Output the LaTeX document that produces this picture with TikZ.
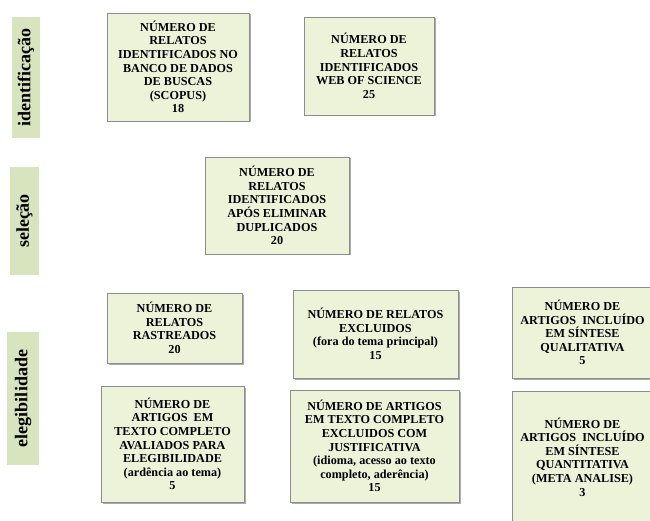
\documentclass[tikz,border=0pt]{standalone}
\usepackage{fontspec}
\setmainfont{Liberation Serif}
\usetikzlibrary{shadows}
\definecolor{barfill}{HTML}{D7E4BD}
\definecolor{boxfill}{HTML}{EDF3D9}
\definecolor{boxline}{HTML}{8C8C8C}
\begin{document}
\begin{tikzpicture}[x=1pt,y=-1pt,
  box/.style={draw=boxline, line width=0.7pt, fill=boxfill, align=center, inner sep=0pt,
    font=\fontsize{12.2}{13.6}\selectfont\bfseries,
    drop shadow={shadow xshift=1.5pt, shadow yshift=-1.5pt, fill=black!55, opacity=0.6}},
  stage/.style={fill=barfill, inner sep=0pt, rotate=90,
    font=\fontsize{18}{20}\selectfont\bfseries}]
\useasboundingbox (0,0) rectangle (650,521);

% stage bars
\node[stage, minimum width=121pt, minimum height=28pt] (sid) at (26,77.5) {identificação};
\node[stage, minimum width=108pt, minimum height=29pt] (ssel) at (24.5,221) {seleção};
\node[stage, minimum width=133pt, minimum height=32pt] (sele) at (23,398.5) {elegibilidade};

% boxes
\node[box, minimum width=142pt, minimum height=108pt] (b1) at (178,67)
  {NÚMERO DE\\RELATOS\\IDENTIFICADOS NO\\BANCO DE DADOS\\DE BUSCAS\\(SCOPUS)\\18};
\node[box, minimum width=130pt, minimum height=98pt] (b2) at (369,66)
  {NÚMERO DE\\RELATOS\\IDENTIFICADOS\\WEB OF SCIENCE\\25};
\node[box, minimum width=144pt, minimum height=97pt] (b3) at (277,205.5)
  {NÚMERO DE\\RELATOS\\IDENTIFICADOS\\APÓS ELIMINAR\\DUPLICADOS\\20};
\node[box, minimum width=135pt, minimum height=70pt] (b4) at (174.5,328)
  {NÚMERO DE\\RELATOS\\RASTREADOS\\20};
\node[box, minimum width=165pt, minimum height=88pt] (b5) at (375.5,334)
  {NÚMERO DE RELATOS\\EXCLUIDOS\\(fora do tema principal)\\15};
\node[box, minimum width=141pt, minimum height=91pt] (b6) at (582.5,332.5)
  {NÚMERO DE\\ARTIGOS\ \ INCLUÍDO\\EM SÍNTESE\\QUALITATIVA\\5};
\node[box, minimum width=143pt, minimum height=116pt] (b7) at (172.5,444)
  {NÚMERO DE\\ARTIGOS\ \ EM\\TEXTO COMPLETO\\AVALIADOS PARA\\ELEGIBILIDADE\\(ardência ao tema)\\5};
\node[box, minimum width=169pt, minimum height=112pt] (b8) at (374.5,446)
  {NÚMERO DE ARTIGOS\\EM TEXTO COMPLETO\\EXCLUIDOS COM\\JUSTIFICATIVA\\(idioma, acesso ao texto\\completo, aderência)\\15};
\node[box, minimum width=141pt, minimum height=132pt] (b9) at (582.5,457)
  {NÚMERO DE\\ARTIGOS\ \ INCLUÍDO\\EM SÍNTESE\\QUANTITATIVA\\(META ANALISE)\\3};
\end{tikzpicture}
\end{document}
